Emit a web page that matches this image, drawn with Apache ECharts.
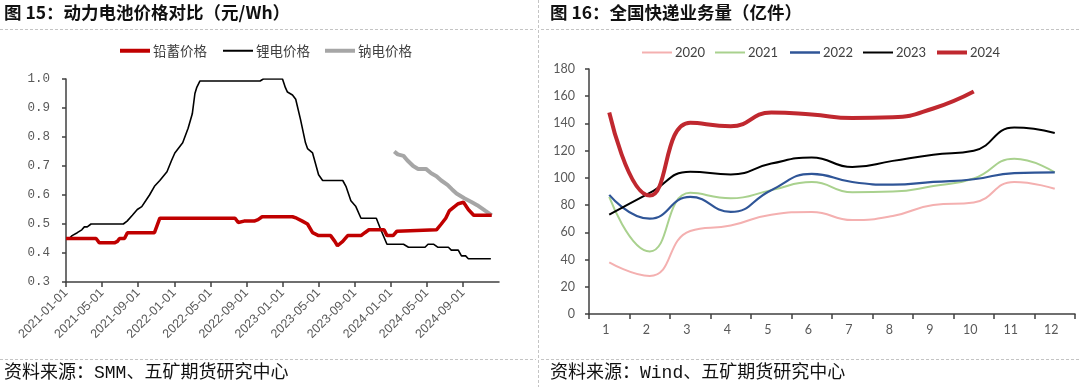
<!DOCTYPE html>
<html>
<head>
<meta charset="utf-8">
<style>
html,body{margin:0;padding:0;background:#fff;}
#c{width:1080px;height:387px;}
</style>
<script src="https://cdn.jsdelivr.net/npm/echarts@6/dist/echarts.min.js"></script>
</head>
<body>
<div id="c"></div>
<script>
// ---------- Left chart data (元/Wh) ----------
const leadDates = ['2021-01-01','2021-04-11','2021-04-22','2021-06-12','2021-06-22','2021-06-29','2021-07-16','2021-07-26','2021-10-26','2021-11-13','2022-07-24','2022-08-04','2022-08-24','2022-09-27','2022-10-10','2022-10-24','2023-02-04','2023-02-17','2023-03-07','2023-03-25','2023-04-11','2023-05-01','2023-06-11','2023-06-25','2023-07-04','2023-07-22','2023-08-08','2023-09-22','2023-10-05','2023-10-19','2023-12-09','2023-12-19','2024-01-09','2024-01-22','2024-06-03','2024-06-19','2024-07-04','2024-07-16','2024-08-03','2024-08-16','2024-09-03','2024-09-19','2024-10-07','2024-12-07'];
const leadPrices = [0.45,0.45,0.435,0.435,0.44,0.45,0.45,0.47,0.47,0.52,0.52,0.505,0.51,0.51,0.515,0.525,0.525,0.52,0.51,0.50,0.47,0.46,0.46,0.44,0.425,0.44,0.46,0.46,0.47,0.48,0.48,0.46,0.46,0.475,0.48,0.50,0.52,0.545,0.56,0.57,0.575,0.55,0.53,0.53];

const lithiumDates = ['2021-01-01','2021-01-12','2021-01-22','2021-02-08','2021-02-22','2021-03-02','2021-03-12','2021-03-25','2021-07-12','2021-07-25','2021-08-12','2021-08-29','2021-09-13','2021-09-26','2021-10-09','2021-10-26','2021-11-13','2021-12-07','2021-12-23','2022-01-03','2022-01-30','2022-02-16','2022-03-01','2022-03-10','2022-03-16','2022-03-27','2022-10-17','2022-10-28','2023-01-01','2023-01-11','2023-01-18','2023-02-04','2023-02-14','2023-03-01','2023-03-18','2023-03-25','2023-04-11','2023-05-01','2023-05-15','2023-07-22','2023-08-02','2023-08-19','2023-09-05','2023-09-22','2023-11-13','2023-11-28','2023-12-19','2024-02-13','2024-02-29','2024-04-25','2024-05-05','2024-05-25','2024-06-07','2024-07-13','2024-07-23','2024-08-16','2024-08-27','2024-09-10','2024-09-19','2024-12-04'];
const lithiumPrices = [0.45,0.45,0.46,0.47,0.48,0.49,0.49,0.50,0.50,0.51,0.53,0.55,0.56,0.58,0.60,0.63,0.65,0.68,0.72,0.745,0.78,0.83,0.88,0.95,0.97,0.993,0.993,1.0,1.0,0.97,0.955,0.945,0.93,0.86,0.78,0.76,0.745,0.67,0.65,0.65,0.63,0.58,0.56,0.52,0.52,0.48,0.43,0.43,0.42,0.42,0.43,0.43,0.42,0.42,0.41,0.41,0.39,0.39,0.38,0.38];

const sodiumDates = ['2024-01-13','2024-01-25','2024-02-13','2024-02-25','2024-03-16','2024-04-02','2024-04-28','2024-05-16','2024-06-03','2024-06-19','2024-07-10','2024-07-25','2024-08-10','2024-09-07','2024-10-01','2024-10-19','2024-11-16','2024-12-07'];
const sodiumPrices = [0.75,0.74,0.735,0.72,0.70,0.69,0.69,0.675,0.665,0.65,0.635,0.62,0.605,0.588,0.575,0.565,0.545,0.53];

const leftTickLabels = ['2021-01-01','2021-05-01','2021-09-01','2022-01-01','2022-05-01','2022-09-01','2023-01-01','2023-05-01','2023-09-01','2024-01-01','2024-05-01','2024-09-01'];

// ---------- Right chart data (亿件) ----------
const months = ['1','2','3','4','5','6','7','8','9','10','11','12'];
const v2020 = [38,28,61,65,73,75,69,72,80,82,97,92];
const v2021 = [86,46,89,85,91,97,89.5,90,94,99.5,114,104];
const v2022 = [87.5,70,86,75,91,103,97,95,97,99,103.5,104];
const v2023 = [73,89,104.5,102.5,110.5,115,108,112.5,117,120,137,133];
const v2024 = [148,87,140.5,138,148,146.5,144,144.5,151,163.5];

// ---------- helpers ----------
function toMonth(s){
  const p = s.split('-').map(Number);
  const dim = new Date(p[0], p[1], 0).getDate();
  return (p[0]-2021)*12 + (p[1]-1) + (p[2]-1)/dim;
}
function pairs(ds, vs){ return ds.map((d,i)=>[toMonth(d), vs[i]]); }
const leftTickValues = leftTickLabels.map(toMonth);

const chart = echarts.init(document.getElementById('c'), null, {renderer:'canvas'});

const cjk = '"Noto Sans CJK SC", "Noto Sans", sans-serif';
const srcFont = '"Liberation Mono", "Noto Sans CJK SC", monospace';
const axisCol = '#404040';
const labCol = '#595959';

function legendItem(name, left, top, h, font, size){
  return {
    data:[{name:name, icon:'rect'}],
    left:left, top:top, padding:0, orient:'horizontal',
    itemWidth:30, itemHeight:h, itemGap:0,
    textStyle:{color:'#404040', fontFamily:font, fontSize:size, padding:[0,0,0,-2]},
    selectedMode:false
  };
}

const dash = {stroke:'#c4c4c4', lineWidth:1, lineDash:[3,2]};

const option = {
  animation:false,
  backgroundColor:'#fff',
  title:[
    {text:'图 15：动力电池价格对比（元/Wh）', left:4, top:4, padding:0,
     textStyle:{fontFamily:cjk, fontSize:17.5, fontWeight:'bold', color:'#111'}},
    {text:'图 16：全国快递业务量（亿件）', left:550, top:4, padding:0,
     textStyle:{fontFamily:cjk, fontSize:17.5, fontWeight:'bold', color:'#111'}},
    {text:'资料来源：SMM、五矿期货研究中心', left:4, top:364, padding:0,
     textStyle:{fontFamily:srcFont, fontSize:18, fontWeight:'normal', color:'#111'}},
    {text:'资料来源：Wind、五矿期货研究中心', left:550, top:364, padding:0,
     textStyle:{fontFamily:srcFont, fontSize:18, fontWeight:'normal', color:'#111'}}
  ],
  legend:[
    legendItem('铅蓄价格', 120, 44, 4, cjk, 13.5),
    legendItem('锂电价格', 223, 44, 2, cjk, 13.5),
    legendItem('钠电价格', 325, 44, 4, cjk, 13.5),
    legendItem('2020', 642, 46, 2, 'Lato, sans-serif', 13),
    legendItem('2021', 715, 46, 2, 'Lato, sans-serif', 13),
    legendItem('2022', 790, 46, 2.5, 'Lato, sans-serif', 13),
    legendItem('2023', 863, 46, 2, 'Lato, sans-serif', 13),
    legendItem('2024', 937, 46, 4, 'Lato, sans-serif', 13)
  ],
  grid:[
    {left:66, top:79, width:433, height:203},
    {left:589, top:69, width:486, height:245}
  ],
  xAxis:[
    {type:'value', gridIndex:0, min:0, max:48,
     axisLine:{lineStyle:{color:axisCol, width:1.5}},
     axisTick:{show:true, length:5, customValues:leftTickValues, lineStyle:{color:axisCol, width:1.5}},
     axisLabel:{customValues:leftTickValues, rotate:45, margin:9, color:labCol,
       fontFamily:'"Liberation Sans", Arial, sans-serif', fontSize:12.5,
       formatter:function(v){ const i=Math.round(v); const y=2021+Math.floor(i/12); const m=i%12+1; return y+'-'+(m<10?'0'+m:m)+'-01'; }},
     splitLine:{show:false}},
    {type:'category', gridIndex:1, data:months, boundaryGap:true,
     axisLine:{lineStyle:{color:axisCol, width:1.5}},
     axisTick:{show:true, length:5, interval:0, lineStyle:{color:axisCol, width:1.5}},
     axisLabel:{margin:9, color:labCol, fontFamily:'Lato, sans-serif', fontSize:12.5, padding:[0,7,0,0]},
     splitLine:{show:false}}
  ],
  yAxis:[
    {type:'value', gridIndex:0, min:0.3, max:1.0, interval:0.1,
     axisLine:{show:true, lineStyle:{color:axisCol, width:1.5}},
     axisTick:{show:true, length:4, lineStyle:{color:axisCol, width:1.5}},
     axisLabel:{margin:16, color:labCol, fontFamily:'"Liberation Mono", monospace', fontSize:12.5,
       formatter:function(v){ return v.toFixed(1); }},
     splitLine:{show:false}},
    {type:'value', gridIndex:1, min:0, max:180, interval:20,
     axisLine:{show:true, lineStyle:{color:axisCol, width:1.5}},
     axisTick:{show:true, length:4, lineStyle:{color:axisCol, width:1.5}},
     axisLabel:{margin:14, color:labCol, fontFamily:'Lato, sans-serif', fontSize:12.5},
     splitLine:{show:false}}
  ],
  series:[
    {name:'铅蓄价格', type:'line', xAxisIndex:0, yAxisIndex:0, data:pairs(leadDates, leadPrices),
     symbol:'none', color:'#C00000', lineStyle:{width:3.5, color:'#C00000'}, z:4},
    {name:'锂电价格', type:'line', xAxisIndex:0, yAxisIndex:0, data:pairs(lithiumDates, lithiumPrices),
     symbol:'none', color:'#000', lineStyle:{width:1.6, color:'#000'}, z:3},
    {name:'钠电价格', type:'line', xAxisIndex:0, yAxisIndex:0, data:pairs(sodiumDates, sodiumPrices),
     symbol:'none', color:'#A6A6A6', lineStyle:{width:4, color:'#A6A6A6'}, z:2},
    {name:'2020', type:'line', xAxisIndex:1, yAxisIndex:1, data:v2020, smooth:0.5,
     symbol:'none', color:'#F4B0B0', lineStyle:{width:2, color:'#F4B0B0'}},
    {name:'2021', type:'line', xAxisIndex:1, yAxisIndex:1, data:v2021, smooth:0.5,
     symbol:'none', color:'#A9D18E', lineStyle:{width:2, color:'#A9D18E'}},
    {name:'2022', type:'line', xAxisIndex:1, yAxisIndex:1, data:v2022, smooth:0.5,
     symbol:'none', color:'#2F5597', lineStyle:{width:2.2, color:'#2F5597'}},
    {name:'2023', type:'line', xAxisIndex:1, yAxisIndex:1, data:v2023, smooth:0.5,
     symbol:'none', color:'#000', lineStyle:{width:2, color:'#000'}},
    {name:'2024', type:'line', xAxisIndex:1, yAxisIndex:1, data:v2024, smooth:0.5,
     symbol:'none', color:'#C0282F', lineStyle:{width:4, color:'#C0282F'}}
  ],
  graphic:[
    {type:'line', shape:{x1:0, y1:29.5, x2:536, y2:29.5}, style:dash, silent:true},
    {type:'line', shape:{x1:541, y1:29.5, x2:1080, y2:29.5}, style:dash, silent:true},
    {type:'line', shape:{x1:0, y1:359.5, x2:536, y2:359.5}, style:dash, silent:true},
    {type:'line', shape:{x1:541, y1:359.5, x2:1080, y2:359.5}, style:dash, silent:true},
    {type:'line', shape:{x1:538.5, y1:0, x2:538.5, y2:387}, style:dash, silent:true}
  ]
};
chart.setOption(option);
</script>
</body>
</html>
